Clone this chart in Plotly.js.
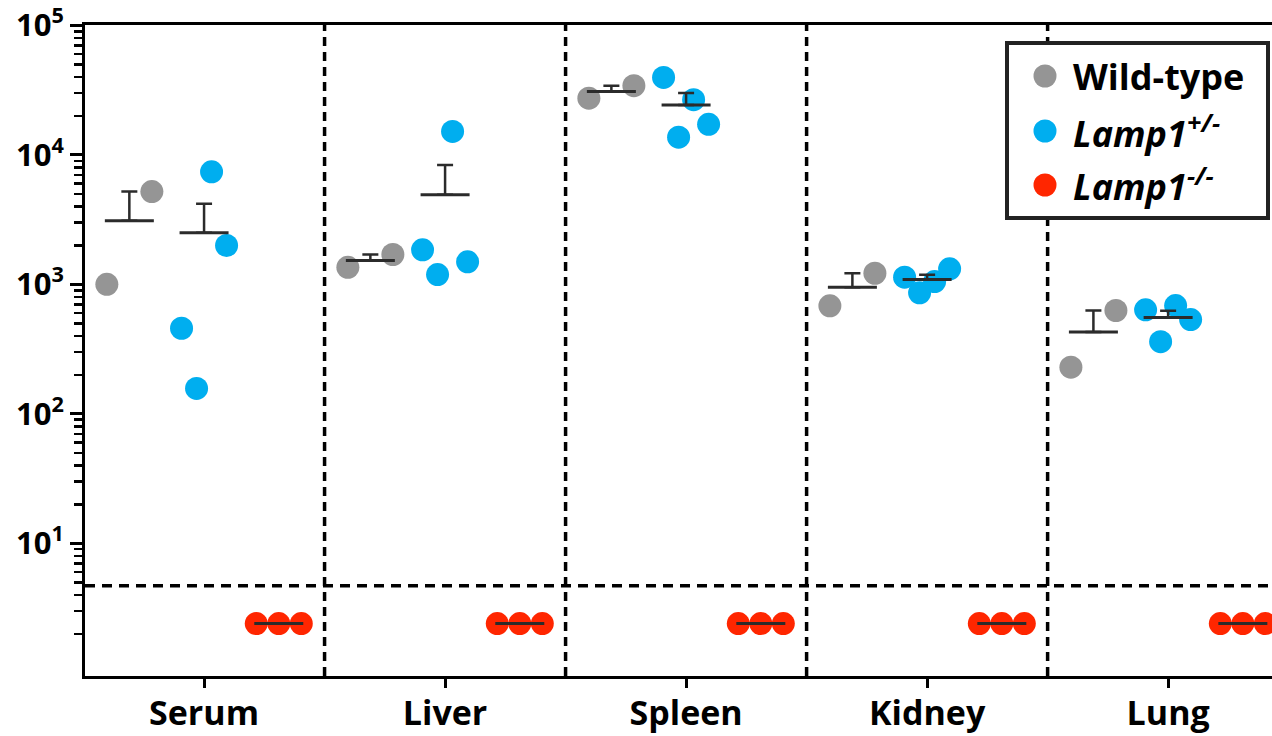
<!DOCTYPE html>
<html><head><meta charset="utf-8">
<script src="https://cdn.plot.ly/plotly-3.0.1.min.js"></script>
<style>html,body{margin:0;padding:0;background:#fff;}#chart{width:1272px;height:736px;}</style>
</head><body><div id="chart"></div>
<script>
// ---------- data ----------
const tissues = ['Serum', 'Liver', 'Spleen', 'Kidney', 'Lung'];
const groupLabels = ['Wild-type', '<i>Lamp1</i><sup><i>+/-</i></sup>', '<i>Lamp1</i><sup><i>-/-</i></sup>'];
// values per tissue, listed left to right as plotted
const wildType = [[1000, 5210], [1355, 1700], [27400, 34200], [682, 1218], [229, 628]];
const lamp1Het = [[458, 157, 7400, 1995], [1848, 1190, 15170, 1493], [39600, 13700, 26700, 17200], [1135, 860, 1051, 1318], [635, 361, 685, 535]];
const lamp1KO = [[2.4, 2.4, 2.4], [2.4, 2.4, 2.4], [2.4, 2.4, 2.4], [2.4, 2.4, 2.4], [2.4, 2.4, 2.4]];
const detectionLimit = 4.7;
const yTickVals = [10, 100, 1000, 10000, 100000];
const yTickText = ['10<sup>1</sup>', '10<sup>2</sup>', '10<sup>3</sup>', '10<sup>4</sup>', '10<sup>5</sup>'];

// ---------- styles ----------
const colors = ['#959595', '#00AEEF', '#FF2600'];
const groupShift = [-0.31, 0, 0.31];
const halfSpread = 0.0934;
const FONT = 'Open Sans, Liberation Sans, Arial, sans-serif';
const barColor = '#2b2b2b';

const groups = [wildType, lamp1Het, lamp1KO];
const traces = [];
groups.forEach((g, gi) => {
  const px = [], py = [], mx = [], my = [], se = [], zero = [];
  g.forEach((vals, ti) => {
    const n = vals.length;
    vals.forEach((v, i) => {
      px.push(ti + groupShift[gi] - halfSpread + (n > 1 ? i * 2 * halfSpread / (n - 1) : halfSpread));
      py.push(v);
    });
    const mean = vals.reduce((a, b) => a + b, 0) / n;
    const sd = Math.sqrt(vals.reduce((a, b) => a + (b - mean) * (b - mean), 0) / (n - 1));
    mx.push(ti + groupShift[gi]); my.push(mean); se.push(sd / Math.sqrt(n)); zero.push(0);
  });
  traces.push({
    type: 'scatter', mode: 'markers', x: px, y: py, name: groupLabels[gi], showlegend: false,
    marker: {size: 23, color: colors[gi], line: {width: 0}}, cliponaxis: false, hoverinfo: 'y'
  });
  traces.push({
    type: 'scatter', mode: 'markers', x: mx, y: my, showlegend: false,
    marker: {symbol: 'line-ew', size: 35, line: {width: 3, color: barColor}, color: barColor},
    error_y: {type: 'data', array: se, arrayminus: zero, symmetric: false, width: 8, thickness: 2.5, color: barColor},
    hoverinfo: 'y'
  });
});

// plot-area pixel helpers (for legend placement)
const L = 85, R = 1272, T = 25, B = 676;
const px2x = p => (p - L) / (R - L);
const px2y = p => (B - p) / (B - T);

const minorVals = [];
for (let e = 0; e < 5; e++) for (let d = 2; d <= 9; d++) minorVals.push(d * Math.pow(10, e));

const shapes = [];
for (let k = 0; k < tissues.length - 1; k++) {
  shapes.push({type: 'line', xref: 'x', yref: 'paper', x0: k + 0.5, x1: k + 0.5, y0: 0, y1: 1,
    line: {color: '#000', width: 3.5, dash: '9px,6px'}, layer: 'above'});
}
shapes.push({type: 'line', xref: 'paper', yref: 'y', x0: 0, x1: 1, y0: detectionLimit, y1: detectionLimit,
  line: {color: '#000', width: 3.5, dash: '10px,7px'}, layer: 'above'});
// legend box
shapes.push({type: 'rect', xref: 'paper', yref: 'paper', x0: px2x(1007), x1: px2x(1268), y0: px2y(218), y1: px2y(43),
  line: {color: '#222', width: 4}, fillcolor: '#fff', layer: 'above'});
const legY = [76, 131, 185];
const annotations = [];
legY.forEach((yy, i) => {
  shapes.push({type: 'circle', xref: 'paper', yref: 'paper', xsizemode: 'pixel', ysizemode: 'pixel',
    xanchor: px2x(1045), yanchor: px2y(yy), x0: -11.5, x1: 11.5, y0: -11.5, y1: 11.5,
    fillcolor: colors[i], line: {width: 0}, layer: 'above'});
  annotations.push({xref: 'paper', yref: 'paper', x: px2x(1071), y: px2y(yy), xanchor: 'left', yanchor: 'middle',
    text: '<b>' + groupLabels[i] + '</b>', showarrow: false, font: {family: FONT, size: 36, color: '#000'}});
});

const layout = {
  width: 1272, height: 736,
  margin: {l: L, r: 0, t: T, b: 736 - B, pad: 0},
  paper_bgcolor: '#fff', plot_bgcolor: '#fff',
  showlegend: false,
  font: {family: FONT, color: '#000'},
  xaxis: {
    type: 'linear', range: [-0.494, 4.431], tickmode: 'array', tickvals: tissues.map((t, i) => i), ticktext: tissues,
    ticks: 'outside', ticklen: 9, tickwidth: 3, tickcolor: '#000', ticklabelstandoff: -4,
    showline: true, linewidth: 3, linecolor: '#000', mirror: true,
    showgrid: false, zeroline: false,
    tickfont: {family: FONT, size: 34, weight: 700, color: '#000'}
  },
  yaxis: {
    type: 'log', range: [-0.025, 5.003], tickmode: 'array', tickvals: yTickVals, ticktext: yTickText,
    ticks: 'outside', ticklen: 12, tickwidth: 3, tickcolor: '#000',
    showline: true, linewidth: 3, linecolor: '#000',
    showgrid: false, zeroline: false,
    tickfont: {family: FONT, size: 31, weight: 700, color: '#000'},
    minor: {tickmode: 'array', tickvals: minorVals, ticks: 'outside', ticklen: 8, tickwidth: 2.5, tickcolor: '#000', showgrid: false}
  },
  shapes: shapes,
  annotations: annotations
};

Plotly.newPlot('chart', traces, layout, {displayModeBar: false, staticPlot: true});
</script>
</body></html>
